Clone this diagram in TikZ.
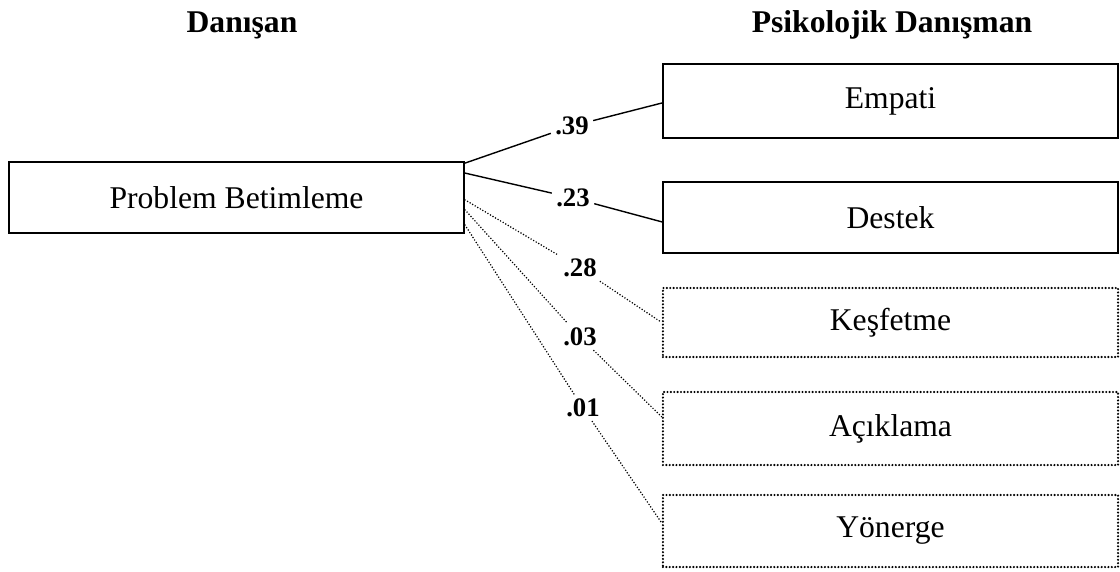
\documentclass[tikz,border=0pt]{standalone}
\usepackage{fontspec}
\setmainfont{Liberation Serif}
\usetikzlibrary{positioning}

\begin{document}
\begin{tikzpicture}[x=0.025cm, y=-0.025cm,
    rbox/.style={draw, line width=1.4pt, minimum width=11.375cm, minimum height=1.8cm,
      inner sep=0pt, font=\fontsize{22.5}{26}\selectfont},
    dotbox/.style={rbox, line width=1.7pt, line cap=round, dash pattern=on 0pt off 2.4pt},
    solid line/.style={line width=1pt},
    dot line/.style={line width=1.2pt, line cap=round, dash pattern=on 0pt off 2.1pt},
    coef/.style={font=\bfseries\fontsize{19}{22}\selectfont, inner sep=3pt}]
	\useasboundingbox (0,0) rectangle (1120,572);

            % headings
            \node[font=\bfseries\fontsize{22.5}{26}\selectfont] (hdan) at (242,25) {Danışan};
            \node[font=\bfseries\fontsize{22.5}{26}\selectfont] (hpd) at (892,25) {Psikolojik Danışman};

            % boxes
            \node[rbox, minimum height=1.775cm] (pb) at (236.5,197.5) {Problem Betimleme};
            \node[rbox, minimum height=1.85cm] (emp) at (890.5,101) {Empati};
            \node[rbox, minimum height=1.775cm] (des) at (890.5,217.5) {Destek};
            \node[dotbox, minimum height=1.725cm] (kes) at (890.5,322.5) {Keşfetme};
            \node[dotbox, minimum height=1.825cm] (ack) at (890.5,428.5) {Açıklama};
            \node[dotbox] (yon) at (890.5,531) {Yönerge};

            % coefficients
            \node[coef] (l39) at (572,126) {.39};
            \node[coef] (l23) at (573,198) {.23};
            \node[coef] (l28) at (580,268) {.28};
            \node[coef] (l03) at (580,337) {.03};
            \node[coef] (l01) at (583,408) {.01};

            \draw[solid line] ([yshift=0.86cm]pb.east) -- (l39) -- ([yshift=-0.05cm]emp.west);
            \draw[solid line] ([yshift=0.61cm]pb.east) -- (l23) -- ([yshift=-0.11cm]des.west);
            \draw[dot line] ([yshift=-0.06cm]pb.east) -- (l28) -- (kes.west);
            \draw[dot line] ([yshift=-0.31cm]pb.east) -- (l03) -- ([yshift=0.29cm]ack.west);
            \draw[dot line] ([yshift=-0.69cm]pb.east) -- (l01) -- ([yshift=0.2cm]yon.west);
\end{tikzpicture}
\end{document}
